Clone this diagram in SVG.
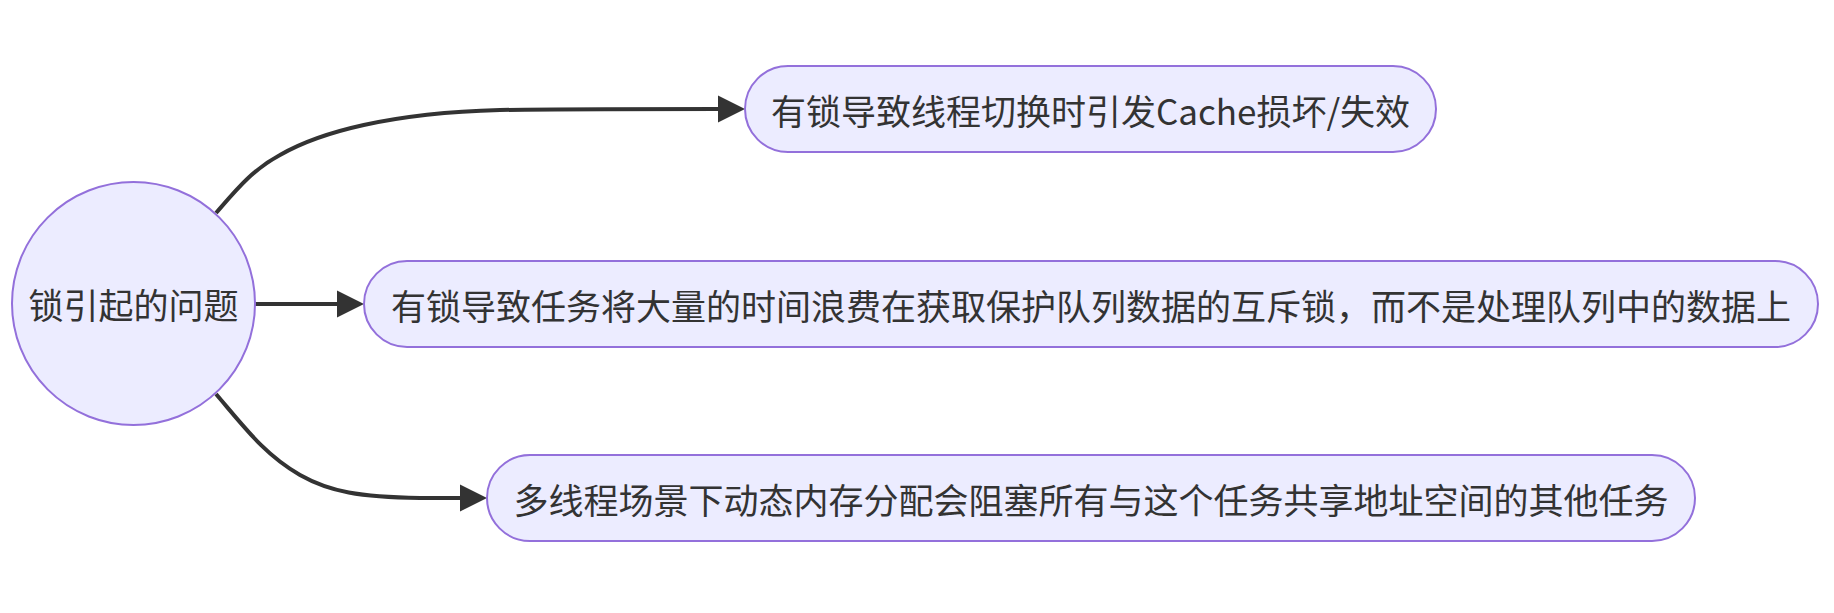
<svg xmlns="http://www.w3.org/2000/svg" width="1834" height="613" viewBox="0 0 1834 613">
<style>
.node{fill:#ECECFF;stroke:#9370DB;stroke-width:2}
.lbl{font-family:"Noto Sans CJK SC","Noto Sans",sans-serif;font-size:35px;fill:#333;text-anchor:middle;dominant-baseline:central}
.edge{fill:none;stroke:#333;stroke-width:4}
</style>
<defs>
<marker id="arrow" viewBox="0 0 10 10" refX="0" refY="5" markerWidth="27" markerHeight="28" markerUnits="userSpaceOnUse" orient="auto">
<path d="M0,0 L10,5 L0,10 z" fill="#333"/>
</marker>
</defs>
<rect width="1834" height="613" fill="#fff"/>
<g id="connectors">
<path class="edge" d="M216,213 C236,190 252,170 280,155 C320,132 390,113 500,110 C560,109 640,109 718,109" marker-end="url(#arrow)"/>
<path class="edge" d="M255,304 L337,304" marker-end="url(#arrow)"/>
<path class="edge" d="M216,394 C245,428 265,455 300,475 C330,492 360,497 420,498 L460,498" marker-end="url(#arrow)"/>
</g>
<g id="root">
<circle class="node" cx="133.5" cy="303.5" r="121.5"/>
<text class="lbl" x="133.5" y="303.5">锁引起的问题</text>
</g>
<g id="n1">
<rect class="node" x="745" y="66" width="691" height="86" rx="43" ry="43"/>
<text class="lbl" x="1090.5" y="109">有锁导致线程切换时引发Cache损坏/失效</text>
</g>
<g id="n2">
<rect class="node" x="364" y="261" width="1454" height="86" rx="43" ry="43"/>
<text class="lbl" x="1091" y="304">有锁导致任务将大量的时间浪费在获取保护队列数据的互斥锁，而不是处理队列中的数据上</text>
</g>
<g id="n3">
<rect class="node" x="487" y="455" width="1208" height="86" rx="43" ry="43"/>
<text class="lbl" x="1091" y="498">多线程场景下动态内存分配会阻塞所有与这个任务共享地址空间的其他任务</text>
</g>
</svg>
